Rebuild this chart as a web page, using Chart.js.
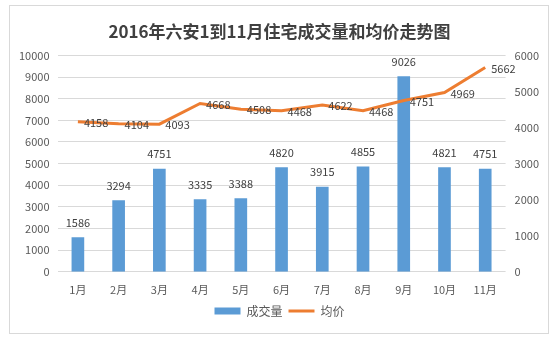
<!DOCTYPE html>
<html>
<head>
<meta charset="utf-8">
<script src="https://cdn.jsdelivr.net/npm/chart.js@4"></script>
<style>
  html, body { margin: 0; padding: 0; background: #fff; }
  #box { position: absolute; left: 9px; top: 5px; width: 538px; height: 327px; border: 1px solid #d9d9d9; }
  canvas { display: block; }
</style>
</head>
<body>
<div id="box"><canvas id="myChart" width="538" height="327"></canvas></div>
<script>
var months = ['1月', '2月', '3月', '4月', '5月', '6月', '7月', '8月', '9月', '10月', '11月'];
var chengjiao = [1586, 3294, 4751, 3335, 3388, 4820, 3915, 4855, 9026, 4821, 4751];
var junjia = [4158, 4104, 4093, 4668, 4508, 4468, 4622, 4468, 4751, 4969, 5662];

var fontCN = '"Noto Sans CJK SC", "Noto Sans", sans-serif';

// data labels: bars above, line points to the right
var labelPlugin = {
    id: 'labels',
    afterDatasetsDraw: function (chart) {
        var ctx = chart.ctx;
        ctx.save();
        ctx.font = '11px ' + fontCN;
        ctx.fillStyle = '#404040';
        chart.data.datasets.forEach(function (ds, i) {
            var meta = chart.getDatasetMeta(i);
            meta.data.forEach(function (el, j) {
                if (ds.type === 'bar') {
                    ctx.textAlign = 'center';
                    ctx.textBaseline = 'middle';
                    ctx.fillText(ds.data[j], el.x, el.y - 15);
                } else {
                    ctx.textAlign = 'left';
                    ctx.textBaseline = 'middle';
                    ctx.fillText(ds.data[j], el.x + 6, el.y + 1);
                }
            });
        });
        ctx.restore();
    }
};

function plain(v) { return String(v); }

let chart1 = new Chart(document.getElementById('myChart').getContext('2d'), {
    data: {
        labels: months,
        datasets: [{
            type: 'bar',
            label: '成交量',
            data: chengjiao,
            backgroundColor: '#5B9BD5',
            borderWidth: 0,
            barThickness: 12,
            pointStyle: 'rect',
            yAxisID: 'y',
            order: 2
        }, {
            type: 'line',
            label: '均价',
            data: junjia,
            borderColor: '#ED7D31',
            backgroundColor: '#ED7D31',
            borderWidth: 3,
            pointRadius: 0,
            pointStyle: 'line',
            tension: 0,
            yAxisID: 'y1',
            order: 1
        }]
    },
    options: {
        responsive: false,
        animation: false,
        layout: { padding: { left: 1, right: 0, top: 4, bottom: 6 } },
        plugins: {
            title: {
                display: true,
                text: '2016年六安1到11月住宅成交量和均价走势图',
                color: '#404040',
                font: { family: fontCN, size: 17, weight: 'bold' },
                padding: { top: 11, bottom: 14 }
            },
            legend: {
                position: 'bottom',
                labels: {
                    usePointStyle: true,
                    pointStyleWidth: 26,
                    boxHeight: 7,
                    color: '#595959',
                    font: { family: fontCN, size: 12 },
                    padding: 6,
                    sort: function (a, b) { return a.datasetIndex - b.datasetIndex; }
                }
            },
            tooltip: { enabled: false }
        },
        scales: {
            x: {
                grid: { display: false },
                border: { display: false },
                ticks: { color: '#595959', font: { family: fontCN, size: 11 }, padding: 3 }
            },
            y: {
                position: 'left',
                min: 0,
                max: 10000,
                ticks: { stepSize: 1000, callback: plain, color: '#595959', font: { family: fontCN, size: 11 }, padding: 8 },
                grid: { color: '#d9d9d9', drawTicks: false },
                border: { display: false }
            },
            y1: {
                position: 'right',
                min: 0,
                max: 6000,
                ticks: { stepSize: 1000, callback: plain, color: '#595959', font: { family: fontCN, size: 11 }, padding: 9 },
                grid: { display: false, drawTicks: false },
                border: { display: false }
            }
        }
    },
    plugins: [labelPlugin]
});
</script>
</body>
</html>
